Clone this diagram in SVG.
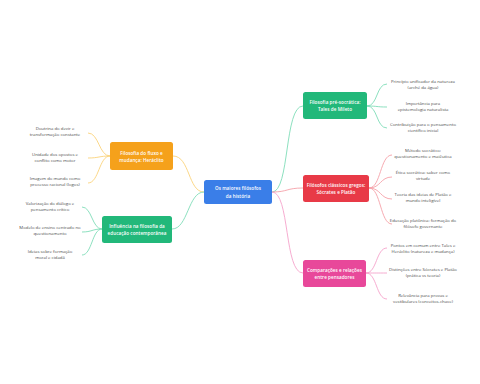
<svg xmlns="http://www.w3.org/2000/svg" width="480" height="384" viewBox="0 0 480 384">
<style>
.n{font-family:"Open Sans","Liberation Sans",sans-serif;font-size:4.6px;font-weight:600;fill:#fff;text-anchor:middle;letter-spacing:0.05px}
.l{font-family:"Open Sans","Liberation Sans",sans-serif;font-size:4.3px;fill:#4a4a4a;text-anchor:middle}
.c{fill:none;stroke-width:0.9}
</style>
<rect width="480" height="384" fill="#fff"/>
<g id="connectors">
<path class="c" stroke="#fbd27a" d="M204,192 C188,192 190,156 173,156"/>
<path class="c" stroke="#7fdcb8" d="M204,192 C188,192 188,229 172,229"/>
<path class="c" stroke="#7fdcb8" d="M272,192 C290,192 284,106 303,106"/>
<path class="c" stroke="#f5a0a8" d="M272,192 C288,192 286,188 303,188"/>
<path class="c" stroke="#f5a3cb" d="M272,192 C290,192 284,273 303,273"/>
<path class="c" stroke="#7fdcb8" d="M367,106 C378,106 376,84 387,84"/>
<path class="c" stroke="#7fdcb8" d="M367,106 C378,106 376,107 387,107"/>
<path class="c" stroke="#7fdcb8" d="M367,106 C378,106 376,128 387,128"/>
<path class="c" stroke="#f5a0a8" d="M369,188 C381,188 380,155 392,155"/>
<path class="c" stroke="#f5a0a8" d="M369,188 C381,188 380,177 392,177"/>
<path class="c" stroke="#f5a0a8" d="M369,188 C381,188 380,199 392,199"/>
<path class="c" stroke="#f5a0a8" d="M369,188 C381,188 380,224 392,224"/>
<path class="c" stroke="#f5a3cb" d="M366,273 C377,273 376,248 387,248"/>
<path class="c" stroke="#f5a3cb" d="M366,273 C377,273 376,273 387,273"/>
<path class="c" stroke="#f5a3cb" d="M366,273 C377,273 376,299 387,299"/>
<path class="c" stroke="#fbd27a" d="M110,156 C99,156 99,133 88,133"/>
<path class="c" stroke="#fbd27a" d="M110,156 C99,156 99,158 88,158"/>
<path class="c" stroke="#fbd27a" d="M110,156 C99,156 99,183 88,183"/>
<path class="c" stroke="#7fdcb8" d="M102,229 C92,229 92,207 82,207"/>
<path class="c" stroke="#7fdcb8" d="M102,229 C92,229 92,232 82,232"/>
<path class="c" stroke="#7fdcb8" d="M102,229 C92,229 92,255 82,255"/>
</g>
<g id="center">
<rect x="204" y="180" width="68" height="24" rx="2.5" fill="#3a7ee8"/>
<text class="n" x="238" y="190">Os maiores filósofos</text>
<text class="n" x="238" y="197.5">da história</text>
</g>
<g id="tales">
<rect x="303" y="92" width="64" height="27" rx="2.5" fill="#22b87a"/>
<text class="n" x="335" y="104">Filosofia pré-socrática:</text>
<text class="n" x="335" y="111">Tales de Mileto</text>
</g>
<g id="socrates">
<rect x="303" y="175" width="66" height="27" rx="2.5" fill="#e83a47"/>
<text class="n" x="336" y="187">Filósofos clássicos gregos:</text>
<text class="n" x="336" y="194">Sócrates e Platão</text>
</g>
<g id="comparacoes">
<rect x="303" y="260" width="63" height="27" rx="2.5" fill="#e8489a"/>
<text class="n" x="334.5" y="272">Comparações e relações</text>
<text class="n" x="334.5" y="279">entre pensadores</text>
</g>
<g id="heraclito">
<rect x="110" y="142" width="63" height="28" rx="2.5" fill="#f5a11b"/>
<text class="n" x="141.5" y="154.5">Filosofia do fluxo e</text>
<text class="n" x="141.5" y="161.5">mudança: Heráclito</text>
</g>
<g id="educacao">
<rect x="102" y="216" width="70" height="27" rx="2.5" fill="#22b87a"/>
<text class="n" x="137" y="228">Influência na filosofia da</text>
<text class="n" x="137" y="235">educação contemporânea</text>
</g>
<g id="leaf-t1"><text class="l" x="423" y="83">Princípio unificador da natureza</text><text class="l" x="423" y="88.5">(arché da água)</text></g>
<g id="leaf-t2"><text class="l" x="423" y="105">Importância para</text><text class="l" x="423" y="110.5">epistemologia naturalista</text></g>
<g id="leaf-t3"><text class="l" x="423" y="126">Contribuição para o pensamento</text><text class="l" x="423" y="131.5">científico inicial</text></g>
<g id="leaf-s1"><text class="l" x="423" y="152">Método socrático:</text><text class="l" x="423" y="157.5">questionamento e maiêutica</text></g>
<g id="leaf-s2"><text class="l" x="423" y="174">Ética socrática: saber como</text><text class="l" x="423" y="179.5">virtude</text></g>
<g id="leaf-s3"><text class="l" x="423" y="196">Teoria das ideias de Platão e</text><text class="l" x="423" y="201.5">mundo inteligível</text></g>
<g id="leaf-s4"><text class="l" x="423" y="222">Educação platônica: formação do</text><text class="l" x="423" y="227.5">filósofo governante</text></g>
<g id="leaf-c1"><text class="l" x="423" y="247">Pontos em comum entre Tales e</text><text class="l" x="423" y="252.5">Heráclito (natureza e mudança)</text></g>
<g id="leaf-c2"><text class="l" x="423" y="271">Distinções entre Sócrates e Platão</text><text class="l" x="423" y="276.5">(prática vs teoria)</text></g>
<g id="leaf-c3"><text class="l" x="423" y="297">Relevância para provas e</text><text class="l" x="423" y="302.5">vestibulares (conceitos-chave)</text></g>
<g id="leaf-h1"><text class="l" x="55" y="130">Doutrina do devir e</text><text class="l" x="55" y="135.5">transformação constante</text></g>
<g id="leaf-h2"><text class="l" x="55" y="156">Unidade dos opostos e</text><text class="l" x="55" y="161.5">conflito como motor</text></g>
<g id="leaf-h3"><text class="l" x="55" y="180">Imagem do mundo como</text><text class="l" x="55" y="185.5">processo racional (logos)</text></g>
<g id="leaf-e1"><text class="l" x="50" y="205">Valorização do diálogo e</text><text class="l" x="50" y="210.5">pensamento crítico</text></g>
<g id="leaf-e2"><text class="l" x="50" y="229">Modelo de ensino centrado no</text><text class="l" x="50" y="234.5">questionamento</text></g>
<g id="leaf-e3"><text class="l" x="50" y="253">Ideias sobre formação</text><text class="l" x="50" y="258.5">moral e cidadã</text></g>
</svg>
